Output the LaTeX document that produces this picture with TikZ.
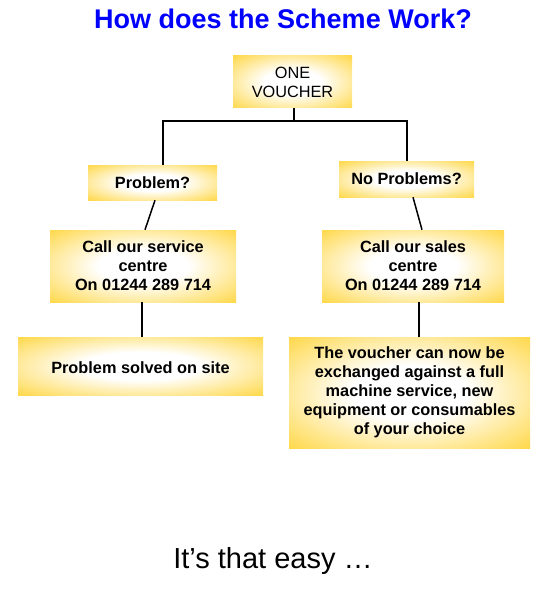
\documentclass[tikz,border=0pt]{standalone}
\usepackage{fontspec}
\setmainfont{Liberation Sans}
\usetikzlibrary{shadings}
\definecolor{gold}{HTML}{FFC800}
\definecolor{titleblue}{HTML}{0000FF}
\pgfdeclareradialshading{boxshade}{\pgfpoint{0bp}{0bp}}{color(0bp)=(white); color(12bp)=(white); color(45bp)=(gold); color(100bp)=(gold)}
\tikzset{
  box/.style={shading=boxshade, inner sep=0pt, align=center, font=\fontsize{16.3}{19}\selectfont\bfseries},
  conn/.style={line width=1.5pt, black},
}
\begin{document}
\begin{tikzpicture}[x=1pt,y=-1pt]
\useasboundingbox (0,0) rectangle (551,591);
\node[font=\fontsize{27}{30}\selectfont\bfseries, text=titleblue] (title) at (283,19) {How does the Scheme Work?};
\node[box, minimum width=119pt, minimum height=52pt, font=\fontsize{16.3}{19}\selectfont] (one) at (292.5,82) {ONE\\VOUCHER};
\node[box, minimum width=129pt, minimum height=35pt] (prob) at (152.5,182.5) {Problem?};
\node[box, minimum width=135pt, minimum height=36pt] (noprob) at (406.5,179) {No Problems?};
\node[box, minimum width=186pt, minimum height=72pt] (service) at (143,266) {Call our service\\centre\\On 01244 289 714};
\node[box, minimum width=182pt, minimum height=72pt] (sales) at (413,266) {Call our sales\\centre\\On 01244 289 714};
\node[box, minimum width=245pt, minimum height=58pt, text height=19pt, text depth=3.5pt] (solved) at (140.5,366) {Problem solved on site};
\node[box, minimum width=241pt, minimum height=111pt] (voucher) at (409.5,392.5) {The voucher can now be\\exchanged against a full\\machine service, new\\equipment or consumables\\of your choice};
\node[font=\fontsize{29}{32}\selectfont] (easy) at (273,561) {It’s that easy …};
\coordinate (split) at (294,121);
\draw[conn] (one.south -| split) -- (split);
\draw[conn] (prob.north -| 163,0) |- (split) -| (noprob.north -| 407,0);
\draw[conn] (prob.south -| 155,0) -- (service.north -| 145,0);
\draw[conn] (noprob.south -| 413,0) -- (sales.north -| 422,0);
\draw[conn] (service.south -| 142,0) -- (solved.north -| 142,0);
\draw[conn] (sales.south -| 419,0) -- (voucher.north -| 419,0);
\end{tikzpicture}
\end{document}
